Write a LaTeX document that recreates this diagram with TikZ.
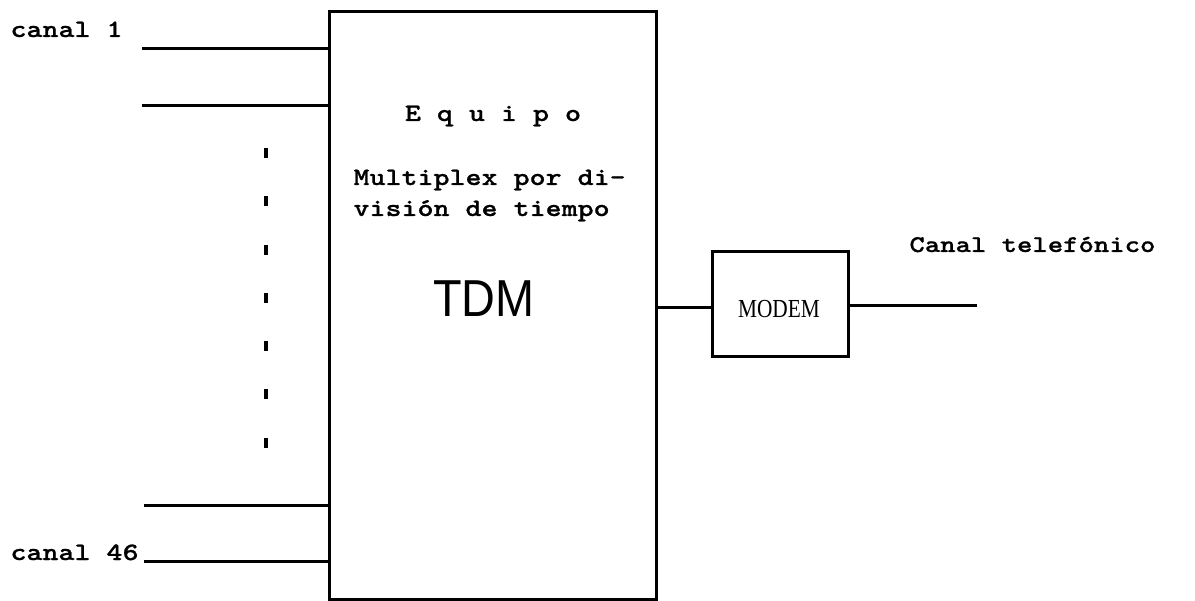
\documentclass[tikz,border=0pt]{standalone}
\usepackage{fontspec}
\setmainfont{Liberation Serif}
\newfontfamily\tw[FakeStretch=1.22,FakeBold=0.8]{Latin Modern Mono Light}
\newfontfamily\tdmfont[FakeStretch=0.9]{Liberation Sans}
\newfontfamily\modemfont[FakeStretch=0.82]{Liberation Serif}
\begin{document}
\begin{tikzpicture}[x=1pt,y=-1pt,line width=3pt,
  blockbox/.style={draw,line width=3pt,inner sep=0pt},
  wire/.style={line width=3pt},
  dotline/.style={line width=4pt,dash pattern=on 10pt off 38.3pt},
  twtext/.style={inner sep=0pt,anchor=base west,font=\tw\bfseries\fontsize{25}{30}\selectfont},
]
\useasboundingbox (0,0) rectangle (1195,601);
% main block
\node[blockbox,minimum width=327pt,minimum height=587pt] (tdm) at (492.5,305.5) {};
% inputs
\coordinate (i1) at (142,49);
\coordinate (i2) at (142,106);
\coordinate (i3) at (144,506);
\coordinate (i4) at (144,561);
\draw[wire] (i1) -- (i1 -| tdm.west);
\draw[wire] (i2) -- (i2 -| tdm.west);
\draw[wire] (i3) -- (i3 -| tdm.west);
\draw[wire] (i4) -- (i4 -| tdm.west);
% dots
\coordinate (d0) at (266,148);
\coordinate (d1) at (266,448);
\draw[dotline] (d0) -- (d1);
% labels
\node[twtext] (l1) at (9,37) {canal 1};
\node[twtext] (l46) at (9,560) {canal 46};
\node[twtext,anchor=base] (eq) at (493,121) {E q u i p o};
\node[twtext] (mp1) at (352,185) {Multiplex por di-};
\node[twtext] (mp2) at (352,216) {visión de tiempo};
\node[inner sep=0pt,anchor=base,font=\tdmfont\fontsize{52}{60}\selectfont] (tdmlabel) at (484,317) {TDM};
% modem
\node[blockbox,minimum width=136pt,minimum height=105pt] (modem) at (780,304.5) {};
\node[inner sep=0pt,anchor=base,font=\modemfont\fontsize{26}{30}\selectfont] (modemlabel) at (779,318) {MODEM};
\coordinate (c) at (700,308);
\draw[wire] (tdm.east |- c) -- (modem.west |- c);
\coordinate (out) at (977,306);
\draw[wire] (modem.east |- out) -- (out);
\node[twtext,font=\tw\bfseries\fontsize{24}{28}\selectfont] (ct) at (908,252) {Canal telefónico};
\end{tikzpicture}
\end{document}
